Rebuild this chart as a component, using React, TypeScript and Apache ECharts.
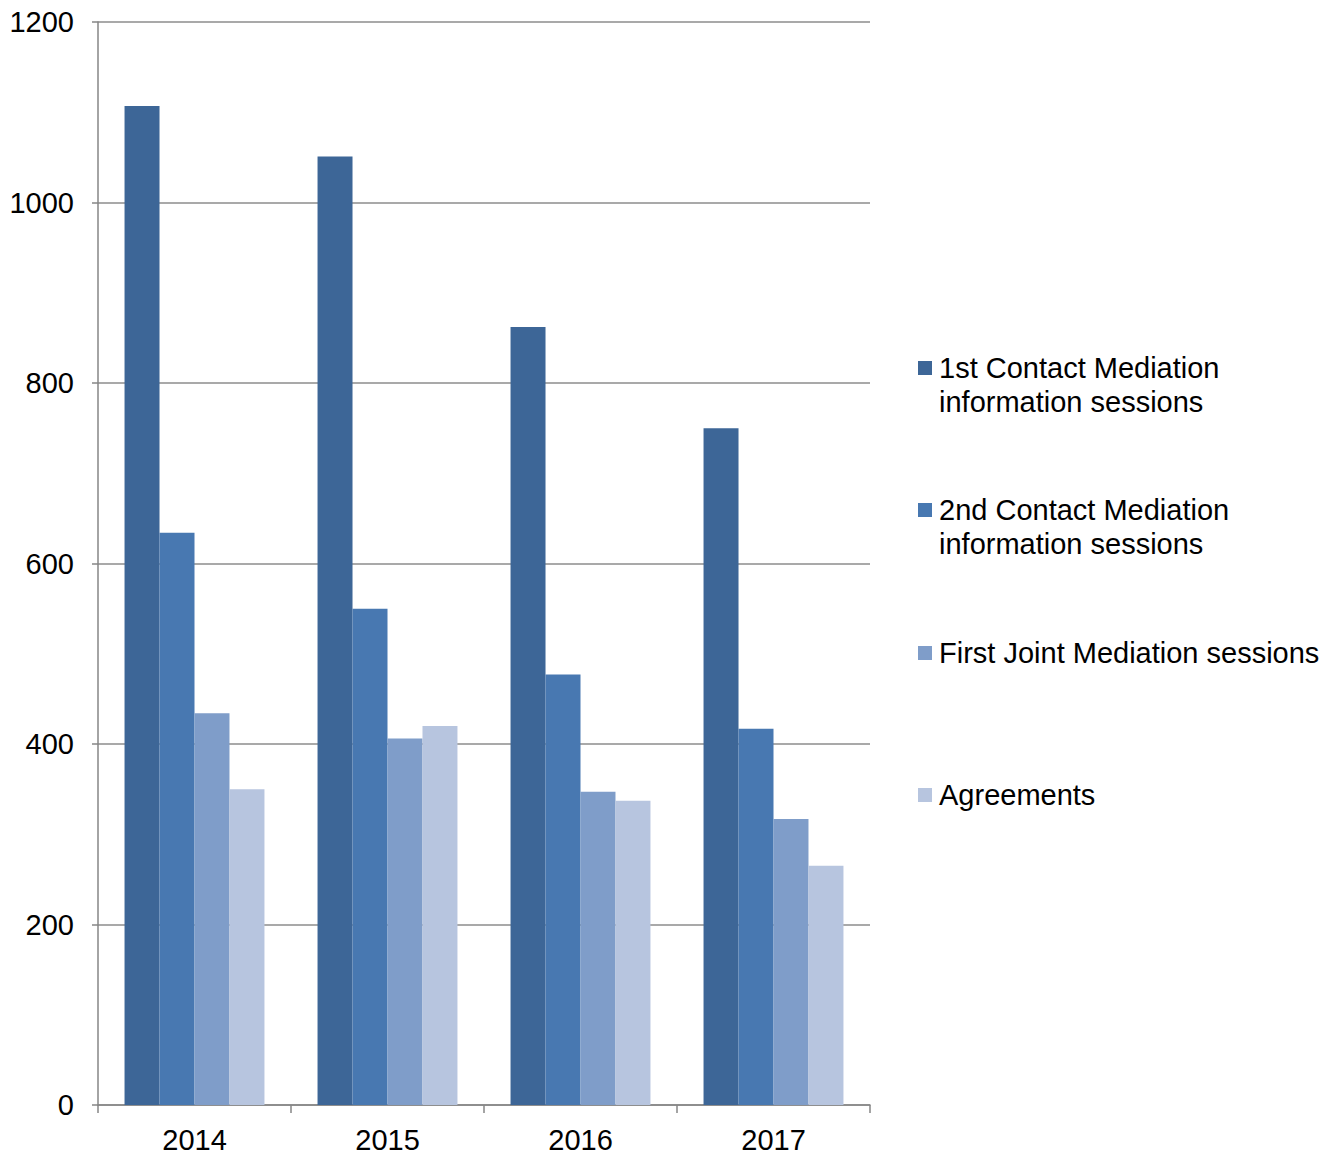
import React, { useEffect, useRef } from "react";
import * as echarts from "echarts";

const categories = ["2014", "2015", "2016", "2017"];
const seriesNames = [
  "1st Contact Mediation\ninformation sessions",
  "2nd Contact Mediation\ninformation sessions",
  "First Joint Mediation sessions",
  "Agreements",
];
const firstContact = [1107, 1051, 862, 750];
const secondContact = [634, 550, 477, 417];
const firstJoint = [434, 406, 347, 317];
const agreements = [350, 420, 337, 265];
const colors = ["#3D6697", "#4878B1", "#7F9DC9", "#B7C5DF"];
const yTicks = [0, 200, 400, 600, 800, 1000, 1200];

const FONT = "'Liberation Sans', Arial, sans-serif";

export default function App() {
  const ref = useRef<HTMLDivElement>(null);
  useEffect(() => {
    if (!ref.current) return;
    const chart = echarts.init(ref.current, null, { renderer: "svg" });
    const values = [firstContact, secondContact, firstJoint, agreements];
    const legendTops = [368, 510, 653, 795];
    const graphic: any[] = [];
    seriesNames.forEach((n, i) => {
      graphic.push({
        type: "rect",
        left: 918,
        top: legendTops[i] - 7,
        shape: { width: 14, height: 14 },
        style: { fill: colors[i] },
      });
      graphic.push({
        type: "text",
        x: 939,
        y: legendTops[i] - 17,
        style: {
          text: n,
          font: `29px ${FONT}`,
          fill: "#000",
          lineHeight: 34,
          verticalAlign: "top",
          align: "left",
        },
      });
    });
    chart.setOption({
      animation: false,
      textStyle: { fontFamily: FONT },
      grid: { left: 98, top: 22, width: 772, height: 1083, containLabel: false },
      xAxis: {
        type: "category",
        data: categories,
        axisLine: { lineStyle: { color: "#868686", width: 1.5 } },
        axisTick: { show: true, length: 8, lineStyle: { color: "#868686", width: 1.5 } },
        axisLabel: { color: "#000", fontSize: 29, margin: 20, fontFamily: FONT },
      },
      yAxis: {
        type: "value",
        min: yTicks[0],
        max: yTicks[yTicks.length - 1],
        interval: 200,
        axisLine: { show: true, lineStyle: { color: "#868686", width: 1.5 } },
        axisTick: { show: true, length: 6, lineStyle: { color: "#868686", width: 1.5 } },
        axisLabel: {
          color: "#000",
          fontSize: 29,
          margin: 24,
          fontFamily: FONT,
          formatter: (v: number) => String(v),
        },
        splitLine: { show: true, lineStyle: { color: "#8C8C8C", width: 1.5 } },
      },
      series: seriesNames.map((n, i) => ({
        name: n,
        type: "bar",
        data: values[i],
        barGap: "0%",
        barCategoryGap: "27.5%",
        itemStyle: { color: colors[i] },
      })),
      graphic,
    });
    return () => chart.dispose();
  }, []);
  return (
    <div
      ref={ref}
      style={{ position: "fixed", left: 0, top: 0, width: 1339, height: 1155, background: "#fff" }}
    />
  );
}
